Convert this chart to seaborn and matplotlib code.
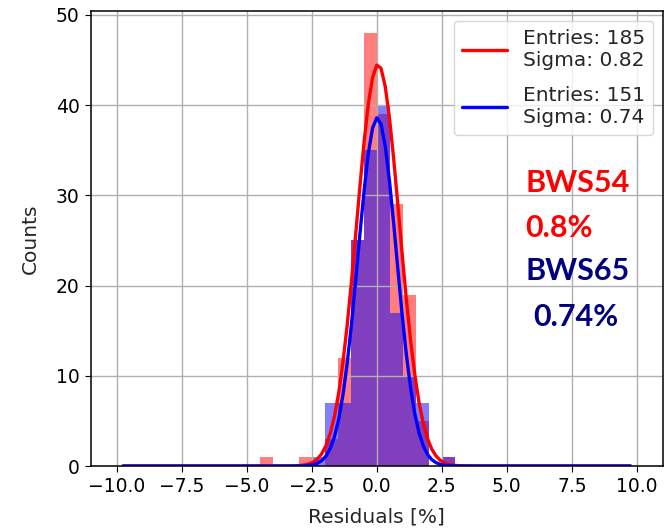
import numpy as np
import pandas as pd
import matplotlib
matplotlib.use("Agg")
import matplotlib.pyplot as plt
import seaborn as sns

# Histogram contents (left edge of each 0.5-wide bin and its count)
bin_width = 0.5
red_bin_left = [-4.5, -3.0, -2.0, -1.5, -1.0, -0.5, 0.0, 0.5, 1.0, 1.5, 2.5]
red_counts = [1, 1, 3, 12, 25, 48, 39, 29, 19, 5, 1]
blue_bin_left = [-2.5, -2.0, -1.5, -1.0, -0.5, 0.0, 0.5, 1.0, 1.5, 2.5]
blue_counts = [1, 7, 7, 25, 35, 40, 17, 10, 7, 1]

# Gaussian fit parameters
red_entries, red_sigma, red_mu, red_amp = 185, 0.82, 0.05, 44.5
blue_entries, blue_sigma, blue_mu, blue_amp = 151, 0.74, 0.02, 38.6

# Annotation text
red_name, red_res = "BWS54", "0.8%"
blue_name, blue_res = "BWS65", "0.74%"

x_ticks = [-10.0, -7.5, -5.0, -2.5, 0.0, 2.5, 5.0, 7.5, 10.0]
y_ticks = [0, 10, 20, 30, 40, 50]

sns.set_style("ticks")
plt.rcParams.update({
    "font.family": ["DejaVu Sans"],
    "font.size": 13.5,
    "axes.edgecolor": "black",
    "axes.linewidth": 1.1,
    "xtick.color": "black",
    "ytick.color": "black",
    "xtick.major.size": 4.5,
    "ytick.major.size": 4.5,
    "grid.color": "#b0b0b0",
    "grid.linewidth": 1.0,
    "axes.axisbelow": "line",
})

fig = plt.figure(figsize=(6.71, 5.31), dpi=100)
ax = fig.add_axes([0.135, 0.1224, 0.853, 0.8566])

edges = [float(e) for e in np.arange(-10.0, 10.0 + bin_width / 2, bin_width)]

red_df = pd.DataFrame({"x": np.array(red_bin_left) + bin_width / 2, "w": red_counts})
blue_df = pd.DataFrame({"x": np.array(blue_bin_left) + bin_width / 2, "w": blue_counts})

sns.histplot(data=red_df, x="x", weights="w", bins=edges, color="red",
             alpha=0.5, linewidth=0, ax=ax)
sns.histplot(data=blue_df, x="x", weights="w", bins=edges, color="blue",
             alpha=0.5, linewidth=0, ax=ax)

xs = np.linspace(-9.75, 9.75, 121)


def gauss(x, amp, mu, sigma):
    return amp * np.exp(-0.5 * ((x - mu) / sigma) ** 2)


red_fit = pd.DataFrame({"x": xs, "y": gauss(xs, red_amp, red_mu, red_sigma)})
blue_fit = pd.DataFrame({"x": xs, "y": gauss(xs, blue_amp, blue_mu, blue_sigma)})

sns.lineplot(data=red_fit, x="x", y="y", color="red", linewidth=2.4, ax=ax,
             label=f"Entries: {red_entries}\nSigma: {red_sigma:.2f}")
sns.lineplot(data=blue_fit, x="x", y="y", color="blue", linewidth=2.4, ax=ax,
             label=f"Entries: {blue_entries}\nSigma: {blue_sigma:.2f}")

ax.set_xlim(-11, 11)
ax.set_ylim(0, 50.4)
ax.set_xticks(x_ticks)
ax.set_xticklabels([f"{t:.1f}".replace("-", "\u2212") for t in x_ticks])
ax.set_yticks(y_ticks)
ax.tick_params(labelsize=13.5)
ax.grid(True)
ax.set_xlabel("Residuals [%]", fontsize=14.5, labelpad=8)
ax.set_ylabel("Counts", fontsize=14.5, labelpad=11)

ax.legend(loc="upper right", fontsize=14.5, framealpha=0.8, handlelength=2.2,
          labelspacing=0.8)

W, H = 671, 531
txt_kw = dict(fontsize=22, fontweight="bold", family=["Lato", "DejaVu Sans"], va="baseline")
fig.text(525 / W, 1 - 191.5 / H, red_name, color="red", **txt_kw)
fig.text(525 / W, 1 - 237 / H, red_res, color="red", **txt_kw)
fig.text(525 / W, 1 - 280.5 / H, blue_name, color="#000080", **txt_kw)
fig.text(533 / W, 1 - 326.5 / H, blue_res, color="#000080", **txt_kw)

fig.savefig("out.png", dpi=100)
